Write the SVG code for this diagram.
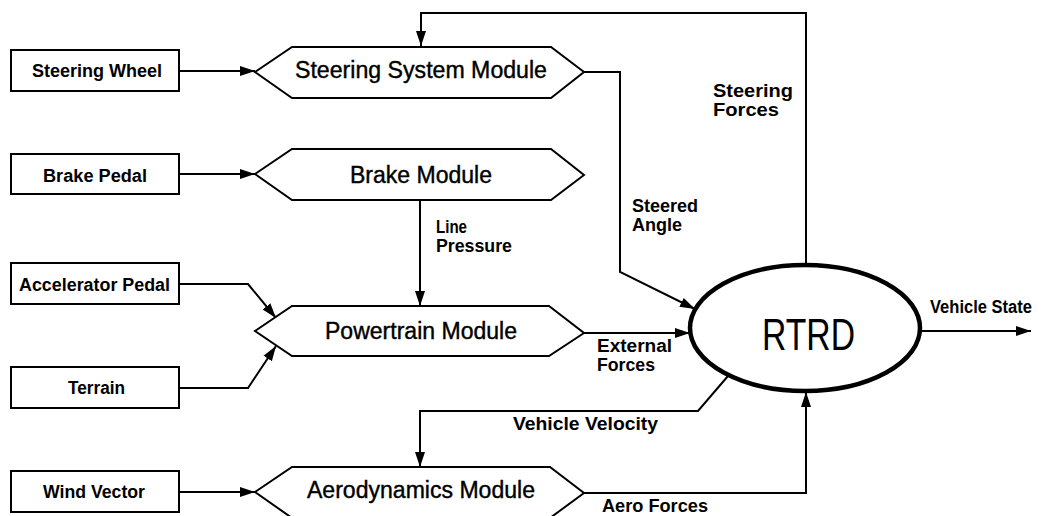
<svg xmlns="http://www.w3.org/2000/svg" width="1044" height="516" viewBox="0 0 1044 516">
<style>
.box{fill:#fff;stroke:#000;stroke-width:2}
.hex{fill:#fff;stroke:#000;stroke-width:2;stroke-linejoin:miter}
.ell{fill:#fff;stroke:#000;stroke-width:4.5}
.ln{fill:none;stroke:#000;stroke-width:2}
.bl{font-family:"Liberation Sans",Arial,sans-serif;font-weight:bold;font-size:17.5px;fill:#000}
.mt{font-family:"Liberation Sans",Arial,sans-serif;font-size:23px;fill:#000;stroke:#000;stroke-width:0.4}
.big{font-family:"Liberation Sans",Arial,sans-serif;font-size:44px;fill:#000}
</style>
<defs>
<marker id="ah" markerUnits="userSpaceOnUse" markerWidth="16" markerHeight="12" refX="15" refY="6" orient="auto">
<path d="M0,1 L15,6 L0,11 z" fill="#000"/>
</marker>
</defs>
<rect width="1044" height="516" fill="#fff"/>
<g id="connectors">
<path class="ln" d="M179,71 H255" marker-end="url(#ah)"/>
<path class="ln" d="M179,174 H255" marker-end="url(#ah)"/>
<path class="ln" d="M179,284 H248 L276,318" marker-end="url(#ah)"/>
<path class="ln" d="M179,388 H248 L276,346" marker-end="url(#ah)"/>
<path class="ln" d="M179,492 H255" marker-end="url(#ah)"/>
<path class="ln" d="M806,265 V13 H421 V46" marker-end="url(#ah)"/>
<path class="ln" d="M584,72 H620 V272 L695,309" marker-end="url(#ah)"/>
<path class="ln" d="M420,200 V306" marker-end="url(#ah)"/>
<path class="ln" d="M584,333 H690" marker-end="url(#ah)"/>
<path class="ln" d="M728,376 L698,411 H420 V467" marker-end="url(#ah)"/>
<path class="ln" d="M584,493 H806 V392" marker-end="url(#ah)"/>
<path class="ln" d="M920,331 H1031" marker-end="url(#ah)"/>
<text class="bl" x="713" y="97" textLength="80" lengthAdjust="spacingAndGlyphs">Steering</text>
<text class="bl" x="713" y="116" textLength="66" lengthAdjust="spacingAndGlyphs">Forces</text>
<text class="bl" x="632" y="212" textLength="66" lengthAdjust="spacingAndGlyphs">Steered</text>
<text class="bl" x="632" y="231" textLength="50" lengthAdjust="spacingAndGlyphs">Angle</text>
<text class="bl" x="436" y="233" textLength="31" lengthAdjust="spacingAndGlyphs">Line</text>
<text class="bl" x="436" y="252" textLength="76" lengthAdjust="spacingAndGlyphs">Pressure</text>
<text class="bl" x="597" y="352" textLength="75" lengthAdjust="spacingAndGlyphs">External</text>
<text class="bl" x="597" y="371" textLength="58" lengthAdjust="spacingAndGlyphs">Forces</text>
<text class="bl" x="513" y="430" textLength="145" lengthAdjust="spacingAndGlyphs">Vehicle Velocity</text>
<text class="bl" x="602" y="512" textLength="106" lengthAdjust="spacingAndGlyphs">Aero Forces</text>
<text class="bl" x="930" y="313" textLength="102" lengthAdjust="spacingAndGlyphs">Vehicle State</text>
</g>
<g id="steering-wheel">
<rect class="box" x="11" y="50" width="168" height="41"/>
<text class="bl" x="32" y="77" textLength="130" lengthAdjust="spacingAndGlyphs">Steering Wheel</text>
</g>
<g id="brake-pedal">
<rect class="box" x="11" y="154" width="168" height="40"/>
<text class="bl" x="43" y="182" textLength="104" lengthAdjust="spacingAndGlyphs">Brake Pedal</text>
</g>
<g id="accelerator-pedal">
<rect class="box" x="11" y="263" width="168" height="41"/>
<text class="bl" x="19" y="291" textLength="151" lengthAdjust="spacingAndGlyphs">Accelerator Pedal</text>
</g>
<g id="terrain">
<rect class="box" x="11" y="367" width="168" height="41"/>
<text class="bl" x="68" y="394" textLength="57" lengthAdjust="spacingAndGlyphs">Terrain</text>
</g>
<g id="wind-vector">
<rect class="box" x="11" y="471" width="168" height="41"/>
<text class="bl" x="43" y="498" textLength="102" lengthAdjust="spacingAndGlyphs">Wind Vector</text>
</g>
<g id="steering-system-module">
<polygon class="hex" points="255,72 292,47 551,47 584,72 551,98 292,98"/>
<text class="mt" x="295" y="78" textLength="252" lengthAdjust="spacingAndGlyphs">Steering System Module</text>
</g>
<g id="brake-module">
<polygon class="hex" points="255,174 292,149 551,149 584,175 551,200 292,200"/>
<text class="mt" x="350" y="183" textLength="142" lengthAdjust="spacingAndGlyphs">Brake Module</text>
</g>
<g id="powertrain-module">
<polygon class="hex" points="255,331 292,306 549,306 584,333 549,356 292,356"/>
<text class="mt" x="325" y="339" textLength="192" lengthAdjust="spacingAndGlyphs">Powertrain Module</text>
</g>
<g id="aerodynamics-module">
<polygon class="hex" points="255,492 292,467 550,467 584,493 550,518 292,518"/>
<text class="mt" x="307" y="498" textLength="228" lengthAdjust="spacingAndGlyphs">Aerodynamics Module</text>
</g>
<g id="rtrd">
<ellipse class="ell" cx="805" cy="328" rx="115" ry="63"/>
<text class="big" x="762" y="350" textLength="93" lengthAdjust="spacingAndGlyphs">RTRD</text>
</g>
</svg>
